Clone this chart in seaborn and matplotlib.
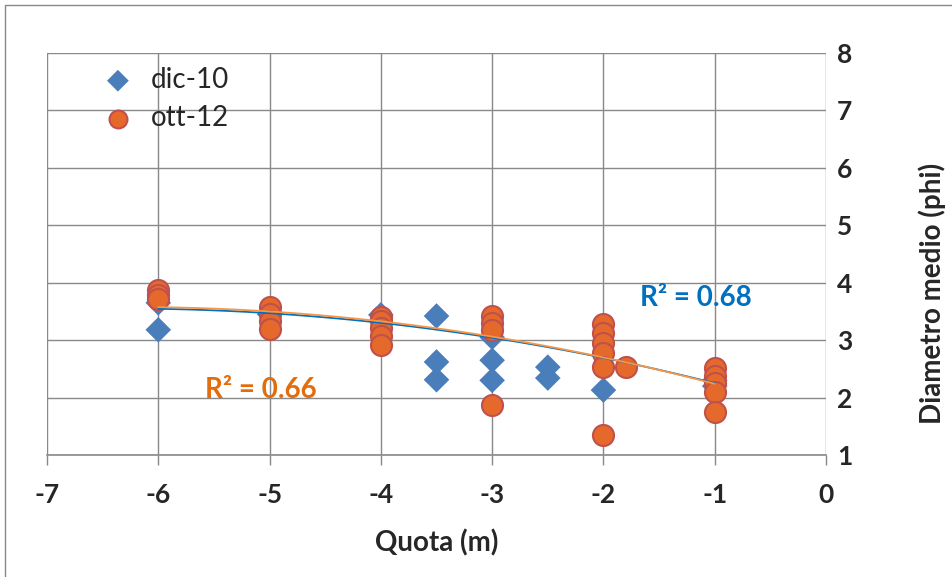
import numpy as np
import pandas as pd
import matplotlib
matplotlib.use('Agg')
import matplotlib.pyplot as plt
from matplotlib.lines import Line2D
import seaborn as sns

# Data
dic_quota = [-6, -6, -5, -4, -3.5, -3.5, -3.5, -3, -3, -3, -2.5, -2.5, -2, -1, -1]
dic_diam = [3.65, 3.18, 3.45, 3.44, 3.42, 2.62, 2.31, 3.05, 2.65, 2.30, 2.53, 2.34, 2.13, 2.30, 2.20]

ott_quota = [-6, -6, -6, -5, -5, -5, -5, -4, -4, -4, -4, -4, -3, -3, -3, -3,
             -2, -2, -2, -2, -2, -2, -1.8, -1, -1, -1, -1, -1]
ott_diam = [3.87, 3.79, 3.72, 3.58, 3.45, 3.33, 3.20, 3.40, 3.33, 3.22, 3.08, 2.92,
            3.42, 3.30, 3.18, 1.87, 3.28, 3.13, 2.95, 2.78, 2.53, 1.35, 2.53,
            2.52, 2.38, 2.25, 2.10, 1.75]

# Excel polynomial trendlines
trend_quota = [-6, -5, -4, -3, -2, -1]
trend_dic = [3.54, 3.48, 3.30, 3.03, 2.70, 2.25]
trend_ott = [3.57, 3.51, 3.32, 3.06, 2.70, 2.24]

series_labels = ['dic-10', 'ott-12']
r2_labels = ['R² = 0.68', 'R² = 0.66']
x_ticks = [-7, -6, -5, -4, -3, -2, -1, 0]
y_ticks = [1, 2, 3, 4, 5, 6, 7, 8]

sns.set_style('white')
plt.rcParams['font.family'] = ['Lato', 'DejaVu Sans']
plt.rcParams['axes.unicode_minus'] = False

fig = plt.figure(figsize=(9.53, 5.77), dpi=100)
ax = fig.add_axes([47 / 953, 1 - 455 / 577, 779 / 953, 402 / 577])

df_dic = pd.DataFrame({'Quota': dic_quota, 'Diametro': dic_diam})
df_ott = pd.DataFrame({'Quota': ott_quota, 'Diametro': ott_diam})

sns.scatterplot(data=df_dic, x='Quota', y='Diametro', marker='D', s=170,
                color='#4A7EBB', edgecolor='none', label=series_labels[0],
                ax=ax, zorder=3)
sns.scatterplot(data=df_ott, x='Quota', y='Diametro', marker='o', s=230,
                color='#E5692A', edgecolor='#C0504D', linewidth=1.5,
                label=series_labels[1], ax=ax, zorder=4)

# 2nd order polynomial trend lines
for ty, col in [(trend_dic, '#0070C0'), (trend_ott, '#F79646')]:
    coef = np.polyfit(trend_quota, ty, 2)
    xs = np.linspace(min(trend_quota), max(trend_quota), 100)
    ax.plot(xs, np.polyval(coef, xs), color=col, lw=1.3, zorder=5)

ax.set_xlim(-7, 0)
ax.set_ylim(1, 8)
ax.set_xticks(x_ticks)
ax.set_yticks(y_ticks)
ax.grid(True, color='#898989', lw=1)
ax.set_axisbelow(True)
for s in ['top', 'left', 'right']:
    ax.spines[s].set_visible(False)
ax.spines['bottom'].set_color('#898989')
ax.spines['bottom'].set_linewidth(1.2)

ax.yaxis.tick_right()
ax.tick_params(axis='y', length=0, pad=8, labelsize=19)
ax.tick_params(axis='x', direction='out', length=7, width=1, color='#898989',
               pad=13, labelsize=19, bottom=True)
for lab in ax.get_xticklabels() + ax.get_yticklabels():
    lab.set_fontweight('bold')
ax.set_xlabel('')
ax.set_ylabel('')

fig.text(437 / 953, 1 - 543 / 577, 'Quota (m)', ha='center', va='center',
         fontsize=20, fontweight='bold')
fig.text(932 / 953, 1 - 293 / 577, 'Diametro medio (phi)', ha='center',
         va='center', rotation=90, fontsize=20, fontweight='bold')

ax.text(0.761, 0.39, r2_labels[0], transform=ax.transAxes, color='#0070C0',
        fontsize=20, fontweight='bold', va='center', ha='left')
ax.text(0.203, 0.162, r2_labels[1], transform=ax.transAxes, color='#E46C0A',
        fontsize=20, fontweight='bold', va='center', ha='left')

ax.legend(loc='upper left', bbox_to_anchor=(57 / 779, (455 - 67) / 402),
          frameon=False, fontsize=20, borderaxespad=0, borderpad=0,
          handlelength=1.0, handletextpad=0.7, labelspacing=0.45,
          markerscale=0.85)

# chart border
fig.add_artist(Line2D([5 / 953, 5 / 953], [0, 1 - 5 / 577], transform=fig.transFigure,
                      color='#898989', lw=1))
fig.add_artist(Line2D([5 / 953, 1], [1 - 5 / 577, 1 - 5 / 577], transform=fig.transFigure,
                      color='#898989', lw=1))

fig.savefig('out.png', dpi=100)
